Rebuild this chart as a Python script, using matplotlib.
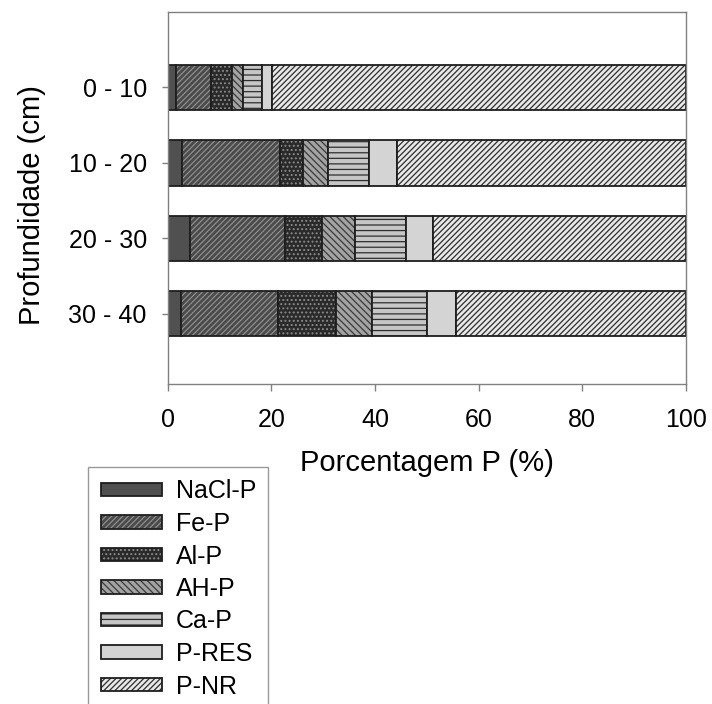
import matplotlib.pyplot as plt
import numpy as np
from matplotlib.patches import Patch

plt.rcParams['font.family'] = ['Liberation Sans', 'DejaVu Sans']
plt.rcParams['hatch.linewidth'] = 0.9

# depth classes and P fractions (% of total P)
depths = ['0 - 10', '10 - 20', '20 - 30', '30 - 40']
nacl_p = [1.7, 2.8, 4.4, 2.5]
fe_p = [6.7, 18.8, 18.2, 18.8]
al_p = [4.1, 4.5, 7.1, 11.2]
ah_p = [2.0, 4.9, 6.5, 6.9]
ca_p = [3.7, 7.8, 9.8, 10.6]
p_res = [2.0, 5.5, 5.1, 5.7]
p_nr = [79.8, 55.7, 48.9, 44.3]
names = ['NaCl-P', 'Fe-P', 'Al-P', 'AH-P', 'Ca-P', 'P-RES', 'P-NR']
series = [nacl_p, fe_p, al_p, ah_p, ca_p, p_res, p_nr]

faces = ['#505050', '#4a4a4a', '#2a2a2a', '#a3a3a3', '#c6c6c6', '#d4d4d4', '#e8e8e8']
hatch_cols = ['#505050', '#8e8e8e', '#8a8a8a', '#3a3a3a', '#2e2e2e', '#d4d4d4', '#2e2e2e']
hatches = ['', '//////', '....', '\\\\\\\\\\', '---', '', '//////']
outline = '#1e1e1e'

fig = plt.figure(figsize=(7.12, 7.04), dpi=100)
ax = fig.add_axes([0.2355, 0.4545, 0.728, 0.5285])

y = np.arange(len(depths))
left = np.zeros(len(depths))
handles = []
for vals, fc, hc, h in zip(series, faces, hatch_cols, hatches):
    vals = np.array(vals)
    ax.barh(y, vals, left=left, height=0.6, color=fc, edgecolor=hc, hatch=h, linewidth=0)
    ax.barh(y, vals, left=left, height=0.6, fill=False, edgecolor=outline, linewidth=1.3)
    left += vals
    handles.append((Patch(facecolor=fc, edgecolor=hc, hatch=h, linewidth=0),
                    Patch(fill=False, edgecolor=outline, linewidth=1.3)))

ax.set_xlim(0, 100)
ax.set_ylim(3.93, -1.0)
ax.set_yticks(y)
ax.set_yticklabels(depths)
ax.set_xticks([0, 20, 40, 60, 80, 100])

for s in ax.spines.values():
    s.set_color('#808080')
    s.set_linewidth(1)
ax.tick_params(axis='x', direction='out', length=5, width=1, color='#808080', labelsize=18, pad=12)
ax.tick_params(axis='y', direction='out', length=4, width=1, color='#808080', labelsize=18, pad=11)

ax.set_xlabel('Porcentagem P (%)', fontsize=21)
ax.set_ylabel('Profundidade (cm)', fontsize=21)
ax.xaxis.set_label_coords(0.5, -0.175)
ax.yaxis.set_label_coords(-0.235, 0.48)

leg = fig.legend(handles, names, loc='upper left', bbox_to_anchor=(88 / 712, 1 - 467 / 704),
                 frameon=True, fancybox=False, fontsize=18, borderaxespad=0,
                 handlelength=2.44, handleheight=0.47, handletextpad=0.56,
                 labelspacing=0.34, borderpad=0.5)
leg.get_frame().set_edgecolor('#808080')
leg.get_frame().set_linewidth(1)

fig.savefig('out.png', dpi=100)
